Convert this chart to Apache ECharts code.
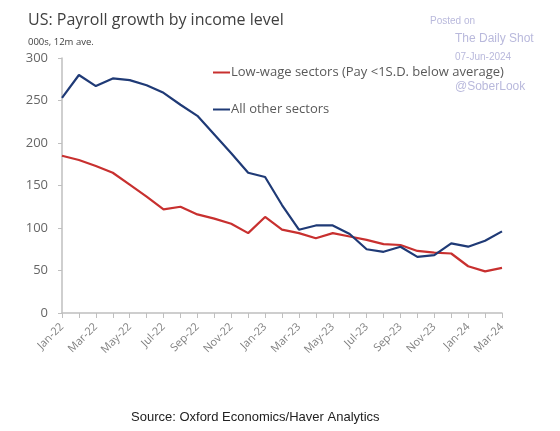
<!DOCTYPE html>
<html>
<head>
<meta charset="utf-8">
<script src="https://cdn.jsdelivr.net/npm/echarts@6/dist/echarts.min.js"></script>
<style>
  html, body { margin: 0; padding: 0; background: #fff; }
  #chart { width: 560px; height: 431px; }
</style>
</head>
<body>
<div id="chart"></div>
<script>
// monthly, Jan-22 .. Mar-24
const months = [
  'Jan-22', 'Feb-22', 'Mar-22', 'Apr-22', 'May-22', 'Jun-22', 'Jul-22', 'Aug-22', 'Sep-22',
  'Oct-22', 'Nov-22', 'Dec-22', 'Jan-23', 'Feb-23', 'Mar-23', 'Apr-23', 'May-23', 'Jun-23',
  'Jul-23', 'Aug-23', 'Sep-23', 'Oct-23', 'Nov-23', 'Dec-23', 'Jan-24', 'Feb-24', 'Mar-24'
];
const lowWage = [
  185, 180, 173, 165, 151, 137, 122, 125, 116,
  111, 105, 94, 113, 98, 94, 88, 94, 90,
  86, 81, 80, 73, 71, 70, 55, 49, 53
];
const allOther = [
  253, 280, 267, 276, 274, 268, 259, 245, 232,
  210, 188, 165, 160, 127, 98, 103, 103, 93,
  75, 72, 78, 66, 68, 82, 78, 85, 96
];
const yTicks = [0, 50, 100, 150, 200, 250, 300];

const RED = '#c8302f';
const NAVY = '#1f3a76';
const WM = '#b9b9dc';

const chart = echarts.init(document.getElementById('chart'));

chart.setOption({
  animation: false,
  textStyle: { fontFamily: '"Open Sans", "Noto Sans", sans-serif' },
  title: [
    {
      text: 'US: Payroll growth by income level',
      left: 28, top: 12, padding: 0,
      textStyle: { fontSize: 16, fontWeight: 'normal', color: '#404040', fontFamily: '"Open Sans", sans-serif' }
    },
    {
      text: '000s, 12m ave.',
      left: 28, top: 37, padding: 0,
      textStyle: { fontSize: 9.5, fontWeight: 'normal', color: '#404040', fontFamily: '"Open Sans", sans-serif' }
    },
    {
      text: 'Source: Oxford Economics/Haver Analytics',
      left: 131, top: 411, padding: 0,
      textStyle: { fontSize: 13, fontWeight: 'normal', color: '#222', fontFamily: '"Liberation Sans", Arial, sans-serif' }
    }
  ],
  graphic: [
    { type: 'text', left: 430, top: 16, style: { text: 'Posted on', fill: WM, fontSize: 10, fontFamily: '"Liberation Sans", sans-serif' } },
    { type: 'text', left: 455, top: 33, style: { text: 'The Daily Shot', fill: WM, fontSize: 12, fontFamily: '"Liberation Sans", sans-serif' } },
    { type: 'text', left: 455, top: 52, style: { text: '07-Jun-2024', fill: WM, fontSize: 10, fontFamily: '"Liberation Sans", sans-serif' } },
    { type: 'text', left: 455, top: 81, style: { text: '@SoberLook', fill: WM, fontSize: 12, fontFamily: '"Liberation Sans", sans-serif' } }
  ],
  legend: {
    orient: 'vertical',
    left: 213, top: 66,
    padding: 0,
    itemGap: 24,
    itemWidth: 17,
    itemHeight: 2,
    icon: 'rect',
    textStyle: { fontSize: 13, color: '#595959', padding: [0, 0, 0, -4] },
    data: ['Low-wage sectors (Pay <1S.D. below average)', 'All other sectors']
  },
  grid: { left: 62, right: 58, top: 58, bottom: 118 },
  xAxis: {
    type: 'category',
    data: months,
    boundaryGap: false,
    axisLine: { lineStyle: { color: '#bfbfbf', width: 1.5 } },
    axisTick: { show: true, interval: 0, length: 5, lineStyle: { color: '#bfbfbf' } },
    axisLabel: { interval: 1, rotate: 45, fontSize: 11, color: '#7f7f7f', margin: 12 }
  },
  yAxis: {
    type: 'value',
    min: yTicks[0],
    max: yTicks[yTicks.length - 1],
    interval: 50,
    splitLine: { show: false },
    axisLine: { show: true, lineStyle: { color: '#bfbfbf', width: 1.5 } },
    axisTick: { show: true, length: 4, lineStyle: { color: '#bfbfbf' } },
    axisLabel: { fontSize: 13, color: '#666', margin: 14 }
  },
  series: [
    {
      name: 'Low-wage sectors (Pay <1S.D. below average)',
      type: 'line',
      data: lowWage,
      showSymbol: false,
      lineStyle: { color: RED, width: 2.2 },
      itemStyle: { color: RED }
    },
    {
      name: 'All other sectors',
      type: 'line',
      data: allOther,
      showSymbol: false,
      lineStyle: { color: NAVY, width: 2.2 },
      itemStyle: { color: NAVY }
    }
  ]
});
</script>
</body>
</html>
